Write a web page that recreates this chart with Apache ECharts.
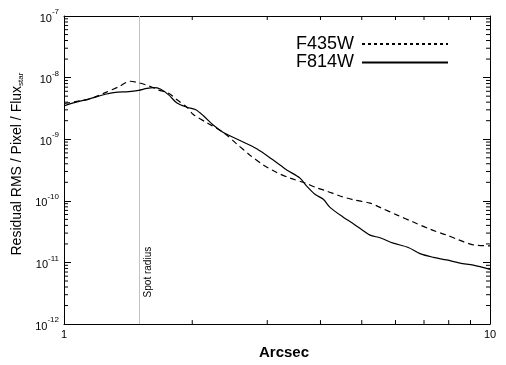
<!DOCTYPE html>
<html>
<head>
<meta charset="utf-8">
<script src="https://cdn.jsdelivr.net/npm/echarts@6/dist/echarts.min.js"></script>
<style>html,body{margin:0;padding:0;background:#fff}#c{width:506px;height:365px}</style>
</head>
<body>
<div id="c"></div>
<script>
// Data (log-log)
var f814wX = [1.000,1.063,1.143,1.250,1.319,1.419,1.497,1.566,1.624,1.683,1.761,1.842,1.944,2.033,2.128,2.240,2.366,2.589,2.834,3.099,3.333,3.581,3.713,3.883,4.062,4.211,4.524,4.777,5.228,5.519,5.929,6.429,6.851,7.362,7.913,8.504,9.138,10.0];
var f814wY = [3.47e-9,3.96e-9,4.48e-9,5.37e-9,5.78e-9,5.93e-9,6.22e-9,6.69e-9,6.87e-9,6.52e-9,5.24e-9,3.86e-9,3.30e-9,3.03e-9,2.38e-9,1.70e-9,1.29e-9,9.53e-10,7.02e-10,4.59e-10,3.18e-10,2.34e-10,1.73e-10,1.28e-10,1.06e-10,7.83e-11,5.43e-11,4.27e-11,2.78e-11,2.52e-11,2.06e-11,1.75e-11,1.39e-11,1.21e-11,1.10e-11,9.75e-12,9.06e-12,7.75e-12];
var f435wX = [1.000,1.073,1.163,1.250,1.344,1.431,1.497,1.580,1.669,1.761,1.842,1.944,2.012,2.163,2.366,2.543,2.733,2.937,3.158,3.393,3.679,3.920,4.138,4.445,4.777,5.228,5.519,6.039,6.607,7.232,7.913,8.353,8.656,9.138,10.0];
var f435wY = [3.8e-9,4.11e-9,4.64e-9,5.71e-9,7.11e-9,8.73e-9,8.24e-9,7.38e-9,6.28e-9,5.57e-9,4.36e-9,3.30e-9,2.52e-9,1.86e-9,1.29e-9,8.41e-10,5.51e-10,3.83e-10,2.88e-10,2.34e-10,1.95e-10,1.63e-10,1.44e-10,1.20e-10,1.04e-10,9.19e-11,7.83e-11,5.93e-11,4.53e-11,3.47e-11,2.78e-11,2.40e-11,2.18e-11,1.93e-11,1.86e-11];
var xMinorTicks = [2,3,4,5,6,7,8,9];
var yMinorTicks = [];
[-12,-11,-10,-9,-8].forEach(function(e){ for (var k=2;k<=9;k++) yMinorTicks.push(k*Math.pow(10,e)); });
var spotRadius = 1.5;
var seriesNames = ['F435W','F814W'];

function zip(a,b){ return a.map(function(v,i){ return [v,b[i]]; }); }
var FONT = 'Liberation Sans';
var chart = echarts.init(document.getElementById('c'), null, {renderer:'canvas'});
var axisLine = {show:true, lineStyle:{color:'#000', width:1}};
var X0 = 1, X1 = 10, Y0 = 1e-12, Y1 = 1e-7;

chart.setOption({
  animation:false,
  backgroundColor:'#fff',
  textStyle:{fontFamily:FONT},
  grid:{left:64, right:16, top:16, bottom:34},
  legend:{
    orient:'vertical', left:291, top:30, align:'right', itemGap:0.5,
    itemWidth:86, itemHeight:14,
    itemStyle:{opacity:0},
    textStyle:{fontFamily:FONT, fontSize:18, lineHeight:18, color:'#000', padding:[0,3,0,0]},
    data:[
      {name:seriesNames[0], lineStyle:{type:[3,3]}},
      {name:seriesNames[1]}
    ]
  },
  xAxis:[{
    type:'log', logBase:10, min:X0, max:X1, position:'bottom',
    axisLine:axisLine, splitLine:{show:false},
    axisTick:{show:true, inside:true, length:7, lineStyle:{color:'#000'}},
    axisLabel:{fontFamily:FONT, fontSize:11, color:'#000', margin:5, formatter:function(v){ return String(Math.round(v)); }},
    name:'Arcsec', nameLocation:'middle', nameGap:14,
    nameTextStyle:{fontFamily:FONT, fontSize:15, fontWeight:'bold', color:'#000', padding:[0,0,0,14]}
  },{
    type:'log', logBase:10, min:X0, max:X1, position:'top',
    axisLine:axisLine, splitLine:{show:false}, axisLabel:{show:false},
    axisTick:{show:true, inside:true, length:7, lineStyle:{color:'#000'}}
  }],
  yAxis:[{
    type:'log', logBase:10, min:Y0, max:Y1, position:'left',
    axisLine:axisLine, splitLine:{show:false},
    axisTick:{show:true, inside:true, length:7, lineStyle:{color:'#000'}},
    axisLabel:{
      fontFamily:FONT, color:'#000', margin:5,
      formatter:function(v){ return '{b|10}{s|' + Math.round(Math.log10(v)) + '}'; },
      rich:{
        b:{fontFamily:FONT, fontSize:11, color:'#000', lineHeight:16, verticalAlign:'bottom'},
        s:{fontFamily:FONT, fontSize:8, color:'#000', lineHeight:16, verticalAlign:'top', padding:[0,0,4,0]}
      }
    },
    name:'{a|Residual RMS / Pixel / Flux}{b|star}', nameLocation:'middle', nameGap:32,
    nameTextStyle:{
      fontFamily:FONT, color:'#000', padding:[0,0,0,12],
      rich:{
        a:{fontFamily:FONT, fontSize:14, color:'#000', lineHeight:18, verticalAlign:'bottom'},
        b:{fontFamily:FONT, fontSize:8, color:'#000', lineHeight:18, verticalAlign:'bottom'}
      }
    }
  },{
    type:'log', logBase:10, min:Y0, max:Y1, position:'right',
    axisLine:axisLine, splitLine:{show:false}, axisLabel:{show:false},
    axisTick:{show:true, inside:true, length:7, lineStyle:{color:'#000'}}
  }],
  series:[
    {
      type:'custom', name:'spot', silent:true, z:1, clip:false,
      data:[[spotRadius, Y0]],
      renderItem:function(params, api){
        var x = api.value(0);
        var b = api.coord([x, Y0]), t = api.coord([x, Y1]);
        var px = Math.round(b[0]) + 0.5;
        return {type:'group', children:[
          {type:'line', shape:{x1:px, y1:b[1], x2:px, y2:t[1]}, style:{stroke:'#c4c4c4', lineWidth:1}},
          {type:'text', x:b[0]+9, y:b[1]-52, rotation:Math.PI/2,
           style:{text:'Spot radius', fill:'#000', font:'10px "Liberation Sans"', align:'center', verticalAlign:'middle'}}
        ]};
      }
    },
    {
      type:'custom', name:'xminor', silent:true, z:3, clip:false,
      data:xMinorTicks.map(function(v){ return [v, Y0]; }),
      renderItem:function(params, api){
        var x = api.value(0);
        var b = api.coord([x, Y0]), t = api.coord([x, Y1]);
        return {type:'group', children:[
          {type:'line', shape:{x1:b[0], y1:b[1], x2:b[0], y2:b[1]-4}, style:{stroke:'#000', lineWidth:1}},
          {type:'line', shape:{x1:t[0], y1:t[1], x2:t[0], y2:t[1]+4}, style:{stroke:'#000', lineWidth:1}}
        ]};
      }
    },
    {
      type:'custom', name:'yminor', silent:true, z:3, clip:false,
      data:yMinorTicks.map(function(v){ return [X0, v]; }),
      renderItem:function(params, api){
        var y = api.value(1);
        var l = api.coord([X0, y]), r = api.coord([X1, y]);
        return {type:'group', children:[
          {type:'line', shape:{x1:l[0], y1:l[1], x2:l[0]+4, y2:l[1]}, style:{stroke:'#000', lineWidth:1}},
          {type:'line', shape:{x1:r[0], y1:r[1], x2:r[0]-4, y2:r[1]}, style:{stroke:'#000', lineWidth:1}}
        ]};
      }
    },
    {
      type:'line', name:seriesNames[0], data:zip(f435wX, f435wY), symbol:'none', smooth:0.3, z:5,
      lineStyle:{color:'#000', width:1.2, type:[6,4]}, itemStyle:{color:'#000'}
    },
    {
      type:'line', name:seriesNames[1], data:zip(f814wX, f814wY), symbol:'none', smooth:0.3, z:5,
      lineStyle:{color:'#000', width:1.2, type:'solid'}, itemStyle:{color:'#000'}
    }
  ]
});
</script>
</body>
</html>
